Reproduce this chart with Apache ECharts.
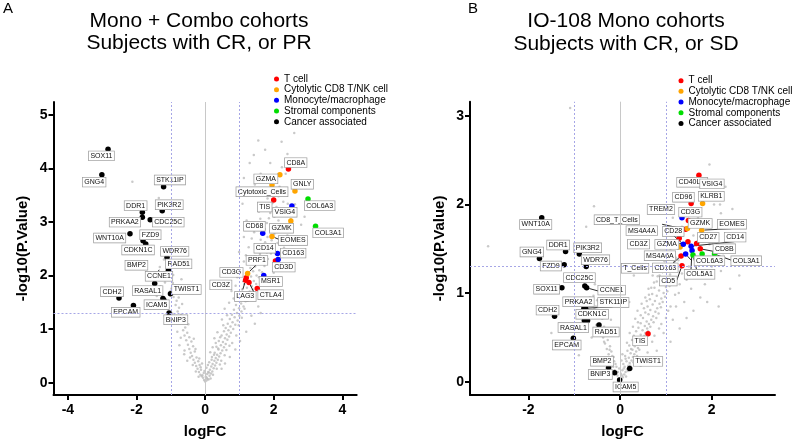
<!DOCTYPE html>
<html><head><meta charset="utf-8">
<script src="https://cdn.jsdelivr.net/npm/echarts@6/dist/echarts.min.js"></script>
<style>html,body{margin:0;padding:0;background:#fff}#c{width:796px;height:444px}</style>
</head><body><div id="c"></div><script>
const FONT = 'Liberation Sans, Arial, Helvetica, sans-serif';
const CATEGORIES = ['T cell','Cytolytic CD8 T/NK cell','Monocyte/macrophage','Stromal components','Cancer associated'];
const COLORS = ['#ff0000','#ffa500','#0000ff','#00dd00','#000000'];
const A_X_TICKS = [-4,-2,0,2,4];
const A_Y_TICKS = [0,1,2,3,4,5];
const B_X_TICKS = [-2,0,2];
const B_Y_TICKS = [0,1,2,3];

// Panel A: Mono + Combo cohorts
const A_T_NAMES = ['CD8A','TIS','CD3D','CD3G','CD3Z','LAG3','CTLA4'];
const A_T_FC = [2.43,2.00,2.05,1.20,1.18,1.28,1.52];
const A_T_P  = [3.99,3.41,2.27,1.96,1.91,1.87,1.76];
const A_CYT_NAMES = ['GZMA','Cytotoxic_Cells','GNLY','GZMK','EOMES','PRF1'];
const A_CYT_FC = [2.18,1.95,2.62,2.50,1.95,1.24];
const A_CYT_P  = [3.88,3.69,3.58,3.02,2.73,2.04];
const A_MONO_NAMES = ['VSIG4','CD68','CD14','CD163','MSR1'];
const A_MONO_FC = [2.53,1.68,2.11,2.13,1.71];
const A_MONO_P  = [3.30,2.79,2.41,2.30,2.00];
const A_STRO_NAMES = ['COL6A3','COL3A1'];
const A_STRO_FC = [3.00,3.22];
const A_STRO_P  = [3.43,2.92];
const A_CAN_NAMES = ['SOX11','GNG4','STK11IP','PIK3R2','DDR1','PRKAA2','CDC25C','WNT10A','FZD9','CDKN1C','WDR76','RAD51','BMP2','CCNE1','TWIST1','RASAL1','ICAM5','CDH2','EPCAM','BNIP3'];
const A_CAN_FC = [-2.83,-3.01,-1.21,-1.25,-1.83,-1.83,-1.60,-2.19,-1.81,-1.73,-1.11,-1.07,-1.44,-1.47,-1.01,-1.23,-1.20,-2.51,-2.09,-1.05];
const A_CAN_P  = [4.36,3.88,3.66,3.21,3.18,3.09,3.04,2.78,2.65,2.59,2.34,2.10,2.00,1.85,1.66,1.57,1.54,1.58,1.44,1.30];
const A_GREY = [
[0.00,0.02],[0.04,0.04],[-0.03,0.05],[0.07,0.07],[-0.06,0.09],[0.10,0.06],[0.02,0.11],[-0.10,0.12],[0.13,0.13],[0.06,0.16],[-0.14,0.15],[0.17,0.17],[-0.04,0.18],[0.09,0.2],[-0.18,0.2],[0.21,0.21],[0.14,0.24],[-0.12,0.24],[-0.22,0.26],[0.25,0.27],[0.04,0.28],[0.18,0.3],[-0.26,0.31],[0.29,0.32],[-0.16,0.33],[0.22,0.35],[0.33,0.37],[-0.3,0.37],[0.12,0.38],[-0.2,0.4],[0.27,0.41],[0.37,0.43],[-0.34,0.43],[0.31,0.46],[-0.25,0.47],[0.41,0.49],[0.2,0.48],[-0.38,0.5],
[0.35,0.52],[0.45,0.55],[0.28,0.56],[-0.42,0.56],[-0.3,0.58],[0.5,0.6],[0.39,0.62],[-0.46,0.63],[0.55,0.66],[0.33,0.67],[-0.35,0.68],[0.46,0.7],[0.6,0.72],[-0.5,0.71],[0.52,0.76],[0.4,0.78],[-0.4,0.77],[0.65,0.8],[-0.55,0.79],[0.58,0.83],[0.7,0.86],[-0.46,0.85],[0.48,0.88],[0.63,0.9],[-0.6,0.88],[0.75,0.93],[-0.52,0.93],[0.55,0.96],[0.68,0.98],[-0.64,0.98],[0.82,1.0],
[0.6,1.02],[0.74,1.05],[-0.58,1.03],[0.88,1.08],[0.66,1.1],[-0.68,1.1],[0.8,1.13],[0.95,1.16],[-0.62,1.16],[0.72,1.19],[0.86,1.22],[-0.74,1.21],[1.0,1.25],[0.78,1.27],[-0.7,1.27],[0.93,1.3],[1.06,1.33],[-0.8,1.33],[0.84,1.36],[0.99,1.39],[-0.76,1.4],[1.12,1.42],[0.9,1.45],[-0.86,1.45],[1.05,1.48],
[1.18,1.52],[0.96,1.55],[-0.83,1.53],[1.1,1.58],[1.25,1.6],[-0.92,1.6],[1.02,1.63],[1.16,1.67],[-0.88,1.68],[1.3,1.7],[1.08,1.74],[1.22,1.77],[-0.98,1.76],[1.36,1.8],[1.14,1.84],[1.28,1.87],[-0.94,1.86],[1.42,1.9],[1.2,1.94],[1.34,1.98],[-1.04,1.95],[1.5,2.0],[1.26,2.04],[1.4,2.08],[-1.1,2.06],[1.58,2.1],[1.32,2.14],[1.46,2.17],[-1.02,2.2],
[1.64,2.22],[1.38,2.25],[1.52,2.28],[1.72,2.32],[1.44,2.36],[1.6,2.4],[1.8,2.43],[1.5,2.47],[1.67,2.51],[1.88,2.55],[1.56,2.58],[1.75,2.62],[1.62,2.67],[1.94,2.66],[1.82,2.72],[1.68,2.76],[2.02,2.78],[1.9,2.83],[1.74,2.87],[2.08,2.9],[1.96,2.95],[1.8,2.98],
[2.14,3.03],[1.86,3.07],[2.02,3.1],[1.9,3.17],[2.2,3.2],[1.75,3.25],[2.08,3.28],[1.96,3.35],[2.28,3.38],[1.82,3.44],[2.14,3.48],[1.7,3.52],[2.02,3.58],
[1.35,1.25],[1.55,1.42],[1.7,1.62],[1.85,1.85],[2.0,2.05],[2.15,2.3],[2.3,2.52],[1.45,1.1],[1.62,1.3],[1.2,0.95],[1.02,0.78],[0.88,0.62],[0.72,0.48],[0.58,0.36],[0.48,0.26],[2.4,2.75],[2.5,3.05],
[-1.2,2.3],[-1.15,1.5],[-0.9,1.25],[-1.3,1.8],[-0.6,0.6],[-0.75,0.7],
[1.45,3.7],[1.62,3.9],[1.9,4.1],[1.3,4.1],[1.42,4.25],[2.23,4.5],[2.4,4.27],[2.6,4.66],[1.75,4.35],[2.05,3.8],[2.35,3.9],[-2.12,3.75],[-1.35,3.45],
[0.05,0.09],[-0.08,0.14],[0.16,0.08],[-0.19,0.11],[0.11,0.19],[-0.02,0.22],[0.23,0.15],[-0.13,0.29],[0.08,0.33],[0.34,0.26],[-0.27,0.21],[0.19,0.43],[-0.09,0.36],[0.43,0.34],[-0.36,0.33],[0.26,0.52],[0.15,0.57],[-0.17,0.45],[0.38,0.64],[-0.44,0.47],[0.47,0.41],[0.31,0.74],[0.57,0.51],[-0.28,0.63],[0.22,0.66],[0.44,0.85],[0.36,0.94],[0.62,0.61],[0.53,1.07],[0.71,0.69],[-0.33,0.82],[0.27,0.83],[0.49,1.18],[0.79,0.74],[-0.57,1.21],[0.64,1.26],[0.57,1.38],[0.91,0.88],[0.7,1.49],[0.83,1.57],[-0.49,1.09],[0.77,1.71],[0.98,1.07],[1.07,1.21],[0.89,1.81],[0.94,1.97],[1.15,1.38],[1.03,2.12],[-0.67,1.47],[1.13,2.26],[1.24,1.53],[1.19,2.38],[1.31,1.64],[1.27,2.53],[1.39,1.74],[1.36,2.69],[1.49,1.84],[1.43,2.81],[1.57,1.97],[1.52,2.93],[1.66,2.06],[1.61,3.06],[1.73,2.18],[1.57,3.19],[1.83,2.31],[1.66,3.33],[1.92,2.41],[1.87,3.62],[2.01,2.52],[1.98,3.71],[2.11,2.61],[2.17,3.66],[2.22,2.84],[2.33,3.12],[2.41,3.34],[1.79,3.81],[2.24,4.02],[1.55,4.52],[1.13,3.82],[1.09,3.34],[1.21,3.03],[1.13,2.72],[0.99,2.44],[2.55,2.4],[2.66,2.71],[2.45,2.16],[2.62,3.33],[2.8,2.95],[2.9,3.1],
[-0.52,0.41],[-0.61,0.53],[-0.71,0.84],[-0.81,0.95],[-0.86,1.13],[-0.96,1.29],[-1.07,1.41],[-1.01,1.71],[-1.17,1.87],[-1.24,2.02],[-0.77,1.59],[-1.12,2.47],[-0.93,2.01],[-1.32,2.16],[-0.69,1.93],[-1.41,1.62],[-0.58,1.76]
];

// Panel B: IO-108 Mono cohorts
const B_T_NAMES = ['CD40LG','CD96','CD3G','CD8_T_Cells','CD28','CD3Z','CD27','CD8B','T_Cells','CD5','TIS'];
const B_T_FC = [1.72,1.55,1.49,1.43,1.29,1.48,1.67,1.75,1.33,1.35,0.61];
const B_T_P  = [2.33,2.01,1.82,1.72,1.62,1.58,1.56,1.50,1.42,1.31,0.54];
const B_CYT_NAMES = ['KLRB1','GZMK','EOMES','GZMA'];
const B_CYT_FC = [1.80,1.47,1.78,1.31];
const B_CYT_P  = [2.01,1.73,1.71,1.52];
const B_MONO_NAMES = ['VSIG4','TREM2','MS4A4A','CD14','CD163','MS4A6A'];
const B_MONO_FC = [2.07,1.35,1.38,1.55,1.57,1.43];
const B_MONO_P  = [2.12,1.85,1.55,1.53,1.48,1.44];
const B_STRO_NAMES = ['COL5A1','COL6A3','COL3A1'];
const B_STRO_FC = [1.59,1.79,2.06];
const B_STRO_P  = [1.43,1.44,1.44];
const B_CAN_NAMES = ['WNT10A','DDR1','PIK3R2','GNG4','FZD9','WDR76','SOX11','CDC25C','CCNE1','PRKAA2','STK11IP','CDKN1C','RASAL1','CDH2','RAD51','EPCAM','BMP2','BNIP3','ICAM5','TWIST1'];
const B_CAN_FC = [-1.71,-1.19,-0.89,-1.76,-1.22,-0.74,-1.27,-0.77,-0.73,-0.79,-0.75,-0.71,-0.78,-1.43,-0.46,-1.02,-0.25,-0.12,-0.01,0.21];
const B_CAN_P  = [1.85,1.47,1.44,1.39,1.32,1.30,1.06,1.08,1.06,0.83,0.83,0.69,0.69,0.74,0.64,0.49,0.16,0.10,0.02,0.15];
const B_GREY = [
[0.0,0.01],[0.03,0.03],[-0.03,0.04],[0.06,0.05],[-0.06,0.07],[0.09,0.08],[0.02,0.09],[-0.09,0.1],[0.12,0.11],[0.05,0.13],[-0.12,0.13],[0.15,0.14],[-0.02,0.15],[0.1,0.17],[-0.15,0.17],[0.18,0.18],[0.07,0.2],[-0.1,0.2],[0.21,0.21],[-0.18,0.22],[0.14,0.23],[0.25,0.24],[0.03,0.24],[-0.21,0.26],[0.19,0.27],[0.28,0.28],[-0.14,0.28],[0.11,0.29],
[0.31,0.31],[0.23,0.32],[-0.25,0.31],[0.35,0.34],[-0.19,0.34],[0.16,0.35],[0.27,0.36],[0.39,0.38],[-0.29,0.37],[0.32,0.4],[-0.22,0.4],[0.43,0.42],[0.2,0.41],[0.36,0.44],[-0.33,0.43],[0.47,0.46],[0.26,0.47],[-0.27,0.47],[0.4,0.49],[0.51,0.5],[-0.37,0.5],[0.3,0.52],[0.45,0.53],[0.55,0.55],[-0.31,0.55],[0.35,0.57],[0.49,0.58],[-0.41,0.58],[0.59,0.6],
[0.4,0.61],[0.54,0.63],[-0.35,0.62],[0.63,0.65],[0.45,0.66],[-0.45,0.66],[0.58,0.68],[0.68,0.7],[0.5,0.72],[-0.39,0.71],[0.72,0.74],[0.62,0.76],[-0.49,0.75],[0.55,0.78],[0.77,0.79],[0.66,0.81],[-0.43,0.8],[0.81,0.83],[0.6,0.85],[0.71,0.87],[-0.53,0.85],[0.86,0.88],[0.76,0.91],[0.65,0.93],[-0.5,0.92],[0.9,0.94],[0.8,0.97],[0.7,0.99],[-0.58,0.97],
[0.95,1.0],[0.85,1.03],[0.75,1.06],[1.0,1.07],[0.9,1.1],[0.8,1.13],[1.04,1.14],[0.95,1.18],[0.86,1.2],[1.09,1.21],[1.0,1.25],[0.91,1.28],[1.14,1.28],[1.05,1.32],[1.18,1.35],[0.97,1.36],[1.1,1.39],[1.22,1.4],
[0.7,0.45],[0.85,0.6],[1.0,0.72],[1.1,0.85],[1.2,0.98],[1.3,1.1],[1.35,1.22],[0.95,0.55],[1.15,0.7],[1.4,0.9],[1.55,1.05],[1.7,1.2],[1.85,1.1],[2.0,1.3],[2.2,1.25],[1.6,0.8],[1.3,0.6],[0.8,0.35],[0.6,0.25],[2.4,1.05],
[1.6,1.65],[1.9,1.75],[2.2,1.9],[2.35,1.6],[2.05,2.0],[1.5,1.95],[1.25,1.6],[1.1,1.5],[0.95,1.45],[2.18,2.0],[2.5,1.8],[1.95,2.45],
[-0.57,1.98],[-0.74,1.75],[-0.65,1.2],[-0.7,1.05],[-0.62,0.5],[-0.8,0.6],[-0.95,0.9],[-0.9,0.3],[-2.88,1.53],[-1.09,3.09],[-1.5,0.55],[0.2,0.9],[0.3,1.2],[-0.2,0.7],
[0.04,0.07],[-0.05,0.11],[0.13,0.06],[0.08,0.15],[-0.08,0.17],[0.17,0.12],[0.22,0.18],[-0.13,0.23],[0.12,0.26],[0.29,0.22],[0.05,0.31],[-0.17,0.29],[0.24,0.37],[0.37,0.29],[0.15,0.44],[-0.23,0.36],[0.33,0.47],[0.42,0.36],[0.21,0.55],[0.48,0.43],[-0.35,0.45],[0.28,0.62],[0.53,0.52],[0.39,0.67],[0.61,0.57],[0.45,0.75],[0.66,0.62],[0.52,0.83],[0.73,0.67],[0.58,0.91],[0.79,0.72],[0.63,0.98],[0.84,0.77],[0.68,1.06],[0.89,0.84],[0.74,1.12],[0.93,0.9],[0.82,1.19],[0.98,0.96],[0.88,1.31],[1.03,1.02],[0.99,1.43],[1.08,1.08],[1.12,1.16],[1.16,1.25],[1.21,1.31],[1.27,1.37],[1.19,1.45],[1.26,1.5],[1.03,1.55],[0.78,1.28],[0.71,1.2],[0.62,1.05],[0.55,0.95],[0.47,0.88],[0.38,0.8],[0.33,0.71],[-0.27,0.58],[-0.45,0.53],[-0.52,0.64],[-0.47,0.76],[-0.56,0.82],[-0.61,0.88],[-0.66,0.95],[-0.41,0.9],[-0.55,1.1],[-0.68,0.75],[-0.38,0.25],[-0.3,0.15],[0.45,0.18],[0.6,0.33],[0.75,0.52],[0.9,0.65],[1.05,0.8],[1.22,0.85],[1.28,1.0],[1.45,1.15],[1.5,1.3],[1.65,1.35],[1.8,1.4],[1.95,1.55],[2.1,1.6],[2.25,1.45],[1.75,0.95],[1.45,0.72],[1.1,0.45],[2.6,1.2],[2.15,0.85],[1.9,0.9],[1.35,1.75],[1.7,1.85],[1.85,2.1],[2.3,2.2],[2.45,1.95],[1.15,1.85]
];

// label placement (pixel offsets from the point), layout only
const A_LABEL_OFFSET = {SOX11:[-6.6,6.7],GNG4:[-7.7,7.3],STK11IP:[6.3,-6.7],PIK3R2:[7,-6],DDR1:[-6.7,-6.7],PRKAA2:[-17.4,5],CDC25C:[18,2.3],WNT10A:[-20.3,4.3],FZD9:[7.4,-6],CDKN1C:[-7.7,6],WDR76:[7.7,-6],RAD51:[10.3,-6.3],BMP2:[-19.3,-10.3],CCNE1:[4.3,-7.3],TWIST1:[16,-4.3],RASAL1:[-15.3,-8],ICAM5:[-7.3,4.5],CDH2:[-7,-6.3],EPCAM:[-7.7,6.7],BNIP3:[6.7,6.7],
CD8A:[7.3,-6.3],TIS:[-9,7],CD3D:[8.3,6],CD3G:[-14.8,-5.3],CD3Z:[-24.7,4.5],LAG3:[-3.7,14],CTLA4:[13.4,6.3],
GZMA:[-14,4],Cytotoxic_Cells:[-10,6.7],GNLY:[7.3,-6.7],GZMK:[-9.3,7.3],EOMES:[21,4],PRF1:[9.3,-13],
VSIG4:[-7,6.3],CD68:[-8.3,-7],CD14:[-12.7,-5.4],CD163:[15,-6.4],MSR1:[7,6],COL6A3:[11.7,6.7],COL3A1:[12.6,6.6]};
const A_LEADERS = ['BMP2','CD3G','CD3Z','LAG3','PRF1','EOMES'];
const B_LABEL_OFFSET = {WNT10A:[-6,6.7],DDR1:[-7.4,-6.4],PIK3R2:[8.4,-6.3],GNG4:[-7.6,-6.6],FZD9:[-13.3,1.3],WDR76:[9.4,-6.7],SOX11:[-15.3,1.4],CDC25C:[-5.4,-8.4],CCNE1:[25,2.3],PRKAA2:[-5.4,-6.4],STK11IP:[27.6,-5.7],CDKN1C:[4.6,-6.3],RASAL1:[-11,7],CDH2:[-7,-6],RAD51:[7,7],EPCAM:[-6.6,6.7],BMP2:[-6.7,-6.3],BNIP3:[-14.3,1.6],ICAM5:[6,7],TWIST1:[18.3,-7],
CD40LG:[-6.7,7],CD96:[-7.7,-6.4],CD3G:[2,-8.3],CD8_T_Cells:[-68.8,-9.5],CD28:[-6,-6.7],CD3Z:[-49.4,2.4],CD27:[11.6,-6],CD8B:[24,0],T_Cells:[-46,12.4],CD5:[-13.7,15.4],TIS:[-8,7],
KLRB1:[8.7,-7.3],GZMK:[12.7,-5],EOMES:[30.3,-6],GZMA:[-13.3,-2.6],
VSIG4:[-3,-10],TREM2:[-21,-8.3],MS4A4A:[-41.6,-13.7],CD14:[44,-9],CD163:[-26.7,17.3],MS4A6A:[-25.7,1.6],
COL5A1:[6.6,19.3],COL6A3:[7.3,6.7],COL3A1:[31.7,6.7]};
const B_LEADERS = ['CCNE1','STK11IP','CD8_T_Cells','CD3Z','CD8B','T_Cells','CD5','EOMES','TREM2','MS4A4A','CD14','CD163','COL5A1','COL3A1','MS4A6A'];

function items(names, fc, p, offs, leaders) {
  return names.map((n, i) => ({
    name: n, value: [fc[i], p[i]],
    label: { offset: offs[n] || [0, -8] },
    labelLine: { show: leaders.indexOf(n) >= 0 }
  }));
}
const labelStyle = {
  show: true, position: 'inside', formatter: '{b}', fontSize: 7, fontFamily: FONT, color: '#111',
  backgroundColor: '#fff', borderColor: '#999', borderWidth: 0.7, padding: [1, 1.5, 0, 1.5], lineHeight: 8
};
function catSeries(gi, k, data) {
  return { type: 'scatter', name: CATEGORIES[k], xAxisIndex: gi, yAxisIndex: gi, data: data,
    symbolSize: 5.5, itemStyle: { color: COLORS[k], opacity: 1 }, label: labelStyle,
    labelLine: { show: false, smooth: false, lineStyle: { color: '#111', width: 0.9 } },
    emphasis: { disabled: true }, z: 3 };
}
function greySeries(gi, data) {
  const dash = { color: '#a6a6e6', type: [2, 2], width: 1 };
  return { type: 'scatter', name: 'bg', xAxisIndex: gi, yAxisIndex: gi, data: data, symbolSize: 2.5,
    itemStyle: { color: '#bcbcbc' }, silent: true, z: 2,
    markLine: { silent: true, symbol: 'none', label: { show: false }, animation: false,
      data: [ { xAxis: 0, lineStyle: { color: '#c8c8c8', type: 'solid', width: 1 } },
              { xAxis: -1, lineStyle: dash }, { xAxis: 1, lineStyle: dash }, { yAxis: 1.3, lineStyle: dash } ] } };
}
function xAx(gi, min, max, ticks) {
  return { gridIndex: gi, type: 'value', min: min, max: max,
    axisLine: { onZero: false, lineStyle: { color: '#000', width: 2 } },
    axisTick: { customValues: ticks, length: 5, lineStyle: { color: '#000', width: 2 } },
    axisLabel: { customValues: ticks, fontSize: 14, fontWeight: 'bold', color: '#000', margin: 8, fontFamily: FONT },
    splitLine: { show: false }, name: 'logFC', nameLocation: 'middle', nameGap: 29,
    nameTextStyle: { fontSize: 15, fontWeight: 'bold', color: '#000', fontFamily: FONT } };
}
function yAx(gi, min, max, ticks) {
  return { gridIndex: gi, type: 'value', min: min, max: max,
    axisLine: { onZero: false, lineStyle: { color: '#000', width: 2 } },
    axisTick: { customValues: ticks, length: 5, lineStyle: { color: '#000', width: 2 } },
    axisLabel: { customValues: ticks, fontSize: 14, fontWeight: 'bold', color: '#000', margin: 6, fontFamily: FONT },
    splitLine: { show: false }, name: '-log10(P.Value)', nameLocation: 'middle', nameGap: 23,
    nameTextStyle: { fontSize: 15, fontWeight: 'bold', color: '#000', fontFamily: FONT } };
}
function legend(left, top) {
  return { data: CATEGORIES, orient: 'vertical', left: left, top: top, icon: 'circle', itemWidth: 5, itemHeight: 5,
    itemGap: 0, itemTextGap: 3, padding: 0, selectedMode: false,
    textStyle: { fontSize: 10, lineHeight: 10.7, color: '#000', fontFamily: FONT } };
}

const option = {
  animation: false,
  backgroundColor: '#fff',
  title: [
    { text: 'Mono + Combo cohorts\nSubjects with CR, or PR', left: 199, top: 10, textAlign: 'center', padding: 0,
      textStyle: { fontSize: 21, fontWeight: 'normal', lineHeight: 22, color: '#000', fontFamily: FONT } },
    { text: 'IO-108 Mono cohorts\nSubjects with CR, or SD', left: 626, top: 10, textAlign: 'center', padding: 0,
      textStyle: { fontSize: 21, fontWeight: 'normal', lineHeight: 23, color: '#000', fontFamily: FONT } },
    { text: 'A', left: 3, top: 1, padding: 0, textStyle: { fontSize: 15, fontWeight: 'normal', color: '#000', fontFamily: FONT } },
    { text: 'B', left: 468, top: 1, padding: 0, textStyle: { fontSize: 15, fontWeight: 'normal', color: '#000', fontFamily: FONT } }
  ],
  legend: [legend(274, 73.6), legend(678.5, 75.3)],
  grid: [
    { left: 53.5, top: 102, width: 303.2, height: 293.7, containLabel: false },
    { left: 470, top: 101.7, width: 305, height: 296, containLabel: false }
  ],
  xAxis: [xAx(0, -4.42, 4.42, A_X_TICKS), xAx(1, -3.275, 3.38, B_X_TICKS)],
  yAxis: [yAx(0, -0.23, 5.24, A_Y_TICKS), yAx(1, -0.15, 3.16, B_Y_TICKS)],
  series: [
    greySeries(0, A_GREY),
    catSeries(0, 0, items(A_T_NAMES, A_T_FC, A_T_P, A_LABEL_OFFSET, A_LEADERS)),
    catSeries(0, 1, items(A_CYT_NAMES, A_CYT_FC, A_CYT_P, A_LABEL_OFFSET, A_LEADERS)),
    catSeries(0, 2, items(A_MONO_NAMES, A_MONO_FC, A_MONO_P, A_LABEL_OFFSET, A_LEADERS)),
    catSeries(0, 3, items(A_STRO_NAMES, A_STRO_FC, A_STRO_P, A_LABEL_OFFSET, A_LEADERS)),
    catSeries(0, 4, items(A_CAN_NAMES, A_CAN_FC, A_CAN_P, A_LABEL_OFFSET, A_LEADERS)),
    greySeries(1, B_GREY),
    catSeries(1, 0, items(B_T_NAMES, B_T_FC, B_T_P, B_LABEL_OFFSET, B_LEADERS)),
    catSeries(1, 1, items(B_CYT_NAMES, B_CYT_FC, B_CYT_P, B_LABEL_OFFSET, B_LEADERS)),
    catSeries(1, 2, items(B_MONO_NAMES, B_MONO_FC, B_MONO_P, B_LABEL_OFFSET, B_LEADERS)),
    catSeries(1, 3, items(B_STRO_NAMES, B_STRO_FC, B_STRO_P, B_LABEL_OFFSET, B_LEADERS)),
    catSeries(1, 4, items(B_CAN_NAMES, B_CAN_FC, B_CAN_P, B_LABEL_OFFSET, B_LEADERS))
  ]
};
const chart = echarts.init(document.getElementById('c'), null, { renderer: 'canvas' });
chart.setOption(option);
</script></body></html>
